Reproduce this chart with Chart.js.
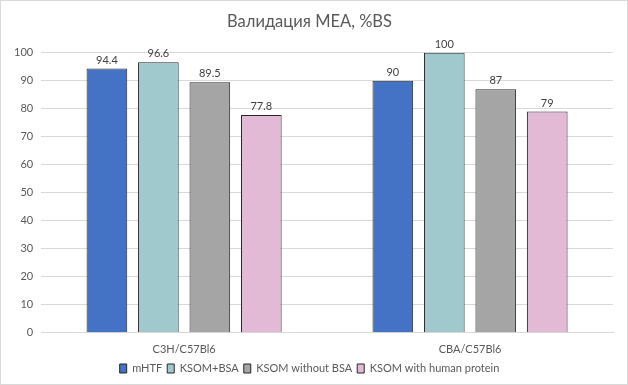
<!DOCTYPE html>
<html>
<head>
<meta charset="utf-8">
<title>Валидация MEA, %BS</title>
<script src="https://cdn.jsdelivr.net/npm/chart.js@4"></script>
<style>
  html, body { margin: 0; padding: 0; background: #fff; }
  #wrap { position: relative; width: 626px; height: 383px; border: 1px solid #d9d9d9; }
</style>
</head>
<body>
<div id="wrap"><canvas id="chart"></canvas></div>
<script>
const categories = ['C3H/C57Bl6', 'CBA/C57Bl6'];
const seriesNames = ['mHTF', 'KSOM+BSA', 'KSOM without BSA', 'KSOM with human protein'];
const mHTF = [94.4, 90];
const ksomBsa = [96.6, 100];
const ksomNoBsa = [89.5, 87];
const ksomHuman = [77.8, 79];
const colors = ['#4472c4', '#9fc9cd', '#a5a5a5', '#e2bad5'];

const txt = '#595959';
Chart.defaults.font.family = 'Lato, "Liberation Sans", sans-serif';
Chart.defaults.color = txt;

// value labels above the bars
const valueLabels = {
  id: 'valueLabels',
  afterDatasetsDraw(chart) {
    const ctx = chart.ctx;
    ctx.save();
    ctx.font = '11px Lato, sans-serif';
    ctx.fillStyle = '#404040';
    ctx.textAlign = 'center';
    ctx.textBaseline = 'bottom';
    chart.data.datasets.forEach((ds, i) => {
      chart.getDatasetMeta(i).data.forEach((bar, j) => {
        ctx.fillText(String(ds.data[j]), bar.x, bar.y - 3);
      });
    });
    ctx.restore();
  }
};

const allSeries = [mHTF, ksomBsa, ksomNoBsa, ksomHuman];

new Chart(document.getElementById('chart'), {
  type: 'bar',
  data: {
    labels: categories,
    datasets: allSeries.map((d, i) => ({
      label: seriesNames[i],
      data: d,
      backgroundColor: colors[i],
      borderColor: '#262626',
      borderWidth: 1,
      categoryPercentage: 0.72,
      barPercentage: 0.79
    }))
  },
  options: {
    responsive: true,
    maintainAspectRatio: false,
    animation: false,
    layout: { padding: { left: 5, right: 14, top: 4, bottom: 0 } },
    plugins: {
      title: {
        display: true,
        text: 'Валидация MEA, %BS',
        color: txt,
        font: { size: 16.5, weight: 'normal' },
        padding: { top: 7, bottom: 21 }
      },
      legend: {
        position: 'bottom',
        labels: {
          boxWidth: 7,
          boxHeight: 9,
          padding: 5,
          color: txt,
          font: { size: 11 }
        }
      },
      tooltip: { enabled: false }
    },
    scales: {
      x: {
        grid: { display: false },
        border: { color: '#d9d9d9' },
        ticks: { color: txt, font: { size: 11 }, padding: 2 }
      },
      y: {
        min: 0,
        max: 100,
        ticks: { stepSize: 10, color: txt, font: { size: 11 }, padding: 8 },
        grid: { color: '#d9d9d9', drawTicks: false },
        border: { display: false }
      }
    }
  },
  plugins: [valueLabels]
});
</script>
</body>
</html>
